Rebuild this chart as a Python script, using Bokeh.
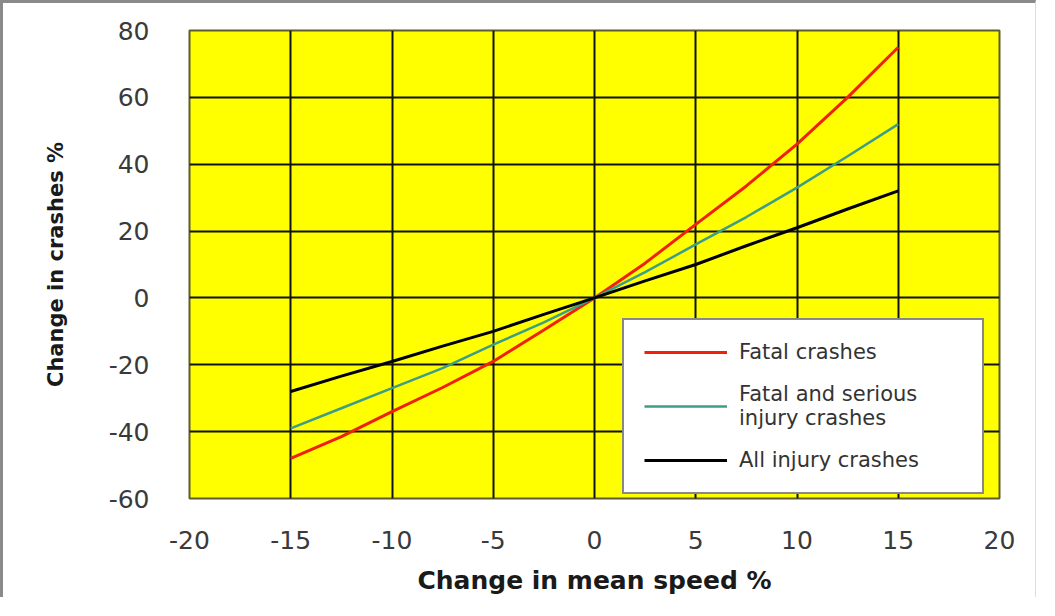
from bokeh.plotting import figure
from bokeh.models import FixedTicker, Legend, LegendItem, Range1d, PrintfTickFormatter
from bokeh.embed import file_html
from bokeh.resources import INLINE

# ---- data ----
speed_change = [-15, -12.5, -10, -7.5, -5, -2.5, 0, 2.5, 5, 7.5, 10, 12.5, 15]
fatal = [-48, -41.5, -34, -26.8, -19, -9.6, 0, 10.4, 22, 33.5, 46, 60, 75]
fatal_serious = [-39, -33, -27, -21, -14, -7.3, 0, 7.7, 16, 24.2, 33, 42.4, 52]
all_injury = [-28, -23.4, -19, -14.4, -10, -4.9, 0, 5.1, 10, 15.6, 21, 26.6, 32]

series_labels = ["Fatal crashes", "Fatal and serious\ninjury crashes", "All injury crashes"]
series_colors = ["#f0200a", "#3d9e86", "#000000"]

x_ticks = [-20, -15, -10, -5, 0, 5, 10, 15, 20]
y_ticks = [-60, -40, -20, 0, 20, 40, 60, 80]

FONT = "DejaVu Sans"

p = figure(width=1036, height=597, output_backend="svg", toolbar_location=None,
           x_range=Range1d(-20, 20), y_range=Range1d(-60, 80),
           min_border_left=186, min_border_right=40, min_border_top=27, min_border_bottom=102)

p.background_fill_color = "#ffff00"
p.border_fill_color = "white"
p.outline_line_color = "#5c5c2e"
p.outline_line_width = 2

for ax in (p.xaxis[0], p.yaxis[0]):
    ax.axis_line_color = None
    ax.major_tick_line_color = None
    ax.minor_tick_line_color = None
    ax.major_label_text_font = FONT
    ax.major_label_text_font_size = "25px"
    ax.major_label_text_color = "#3a3a3a"
    ax.axis_label_text_font = FONT
    ax.axis_label_text_font_style = "bold"
    ax.axis_label_text_color = "#1a1a1a"
    ax.formatter = PrintfTickFormatter(format="%d")

p.xaxis.axis_label_text_font_size = "25px"
p.yaxis.axis_label_text_font_size = "21px"
p.xaxis.ticker = FixedTicker(ticks=x_ticks)
p.yaxis.ticker = FixedTicker(ticks=y_ticks)
p.xaxis.axis_label = "Change in mean speed %"
p.yaxis.axis_label = "Change in crashes %"
p.xaxis.major_label_standoff = 26
p.xaxis.axis_label_standoff = 14
p.yaxis.major_label_standoff = 34
p.yaxis.axis_label_standoff = 38

for g in (p.xgrid[0], p.ygrid[0]):
    g.grid_line_color = "#111111"
    g.grid_line_width = 2
    g.grid_line_alpha = 1

r1 = p.line(speed_change, fatal, line_color=series_colors[0], line_width=3)
r2 = p.line(speed_change, fatal_serious, line_color=series_colors[1], line_width=2.5)
r3 = p.line(speed_change, all_injury, line_color=series_colors[2], line_width=3)

legend = Legend(items=[LegendItem(label=series_labels[0], renderers=[r1]),
                       LegendItem(label=series_labels[1], renderers=[r2]),
                       LegendItem(label=series_labels[2], renderers=[r3])],
                location=(433, 4))
legend.label_text_font = FONT
legend.label_text_font_size = "21px"
legend.label_text_color = "#333333"
legend.glyph_width = 83
legend.glyph_height = 20
legend.label_standoff = 12
legend.label_width = 223
legend.label_height = 20
legend.padding = 20
legend.spacing = 18
legend.margin = 0
legend.border_line_color = "#111111"
legend.border_line_width = 2
legend.background_fill_color = "white"
legend.background_fill_alpha = 1
p.add_layout(legend)

p.styles = {"border-top": "3px solid #8a8a8a", "border-left": "3px solid #8a8a8a",
            "border-right": "1px solid #dddddd"}

open("out.html", "w").write(file_html(p, INLINE))
